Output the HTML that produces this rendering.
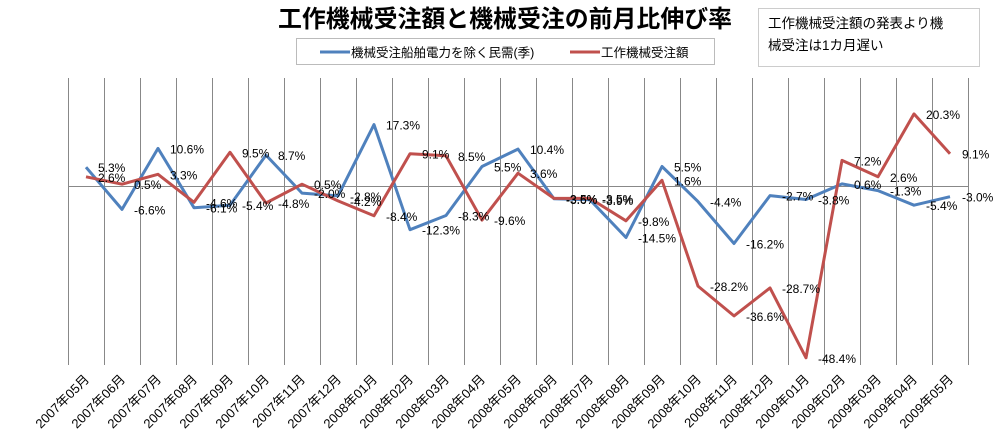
<!DOCTYPE html>
<html><head><meta charset="utf-8"><style>
body{margin:0;background:#fff;}
svg text{font-family:"Liberation Sans","Noto Sans CJK JP",sans-serif;}
</style></head><body>
<svg width="1002" height="442" xmlns="http://www.w3.org/2000/svg">
<rect width="1002" height="442" fill="#fff"/>
<text x="505" y="27" font-size="24" font-weight="bold" text-anchor="middle" fill="#000" textLength="454" lengthAdjust="spacingAndGlyphs">工作機械受注額と機械受注の前月比伸び率</text>
<rect x="758.5" y="8.5" width="221" height="58" fill="#fff" stroke="#ccc"/>
<text x="768" y="28" font-size="13.5">工作機械受注額の発表より機</text>
<text x="768" y="50" font-size="13.5">械受注は1カ月遅い</text>
<rect x="296.5" y="38.5" width="418" height="26" fill="#fff" stroke="#bbb"/>
<line x1="320" y1="52" x2="350" y2="52" stroke="#4f81bd" stroke-width="3"/>
<text x="351" y="57" font-size="12.5">機械受注船舶電力を除く民需(季)</text>
<line x1="570" y1="52" x2="600" y2="52" stroke="#c0504d" stroke-width="3"/>
<text x="601" y="57" font-size="12.5">工作機械受注額</text>
<g id="grid" stroke="#888" stroke-width="1"></g>
<line x1="68" y1="186.5" x2="968" y2="186.5" stroke="#888"/>
<g id="series"></g>
<g id="labels" font-size="12" fill="#000"></g>
<g id="xl" font-size="13" fill="#000"></g>
</svg>
<script>
var ns="http://www.w3.org/2000/svg";
function el(t,a,p,txt){var e=document.createElementNS(ns,t);for(var k in a)e.setAttribute(k,a[k]);if(txt!==undefined)e.textContent=txt;document.getElementById(p).appendChild(e);return e;}
for(var k=0;k<=25;k++){var x=68+36*k+0.5;el('line',{x1:x,y1:78,x2:x,y2:365},'grid');}
var blue=[5.3,-6.6,10.6,-6.1,-5.4,8.7,-2.0,-2.8,17.3,-12.3,-8.3,5.5,10.4,-3.6,-3.9,-14.5,5.5,-4.4,-16.2,-2.7,-3.8,0.6,-1.3,-5.4,-3.0];
var red=[2.6,0.5,3.3,-4.6,9.5,-4.8,0.5,-4.2,-8.4,9.1,8.5,-9.6,3.6,-3.5,-3.5,-9.8,1.6,-28.2,-36.6,-28.7,-48.4,7.2,2.6,20.3,9.1];
function Y(v){return 186-v*3.55;}
function X(i){return 86+36*i;}
function poly(d,c){var p=d.map(function(v,i){return X(i)+','+Y(v).toFixed(1)}).join(' ');el('polyline',{points:p,fill:'none',stroke:c,'stroke-width':3,'stroke-linejoin':'round'},'series');}
poly(blue,'#4f81bd');poly(red,'#c0504d');
function lab(d){d.forEach(function(v,i){el('text',{x:X(i)+12,y:Y(v)+5},'labels',v.toFixed(1)+'%');});}
lab(blue);lab(red);
var months=[];for(var y=2007;y<=2009;y++)for(var m=1;m<=12;m++){if((y==2007&&m<5)||(y==2009&&m>5))continue;months.push(y+'年'+(m<10?'0':'')+m+'月');}
months.forEach(function(s,i){var x=X(i)+4,y=380;el('text',{x:x,y:y,'text-anchor':'end',transform:'rotate(-45 '+x+' '+y+')'},'xl',s);});
</script>
</body></html>
